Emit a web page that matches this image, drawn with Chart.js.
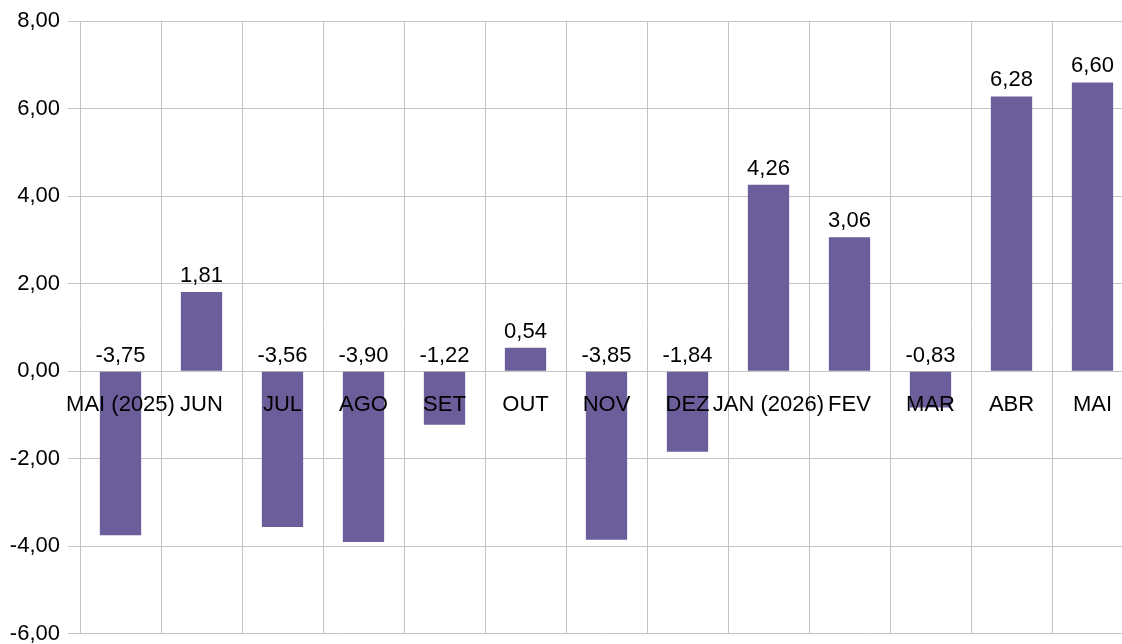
<!DOCTYPE html>
<html>
<head>
<meta charset="utf-8">
<script src="https://cdn.jsdelivr.net/npm/chart.js@4.4.1/dist/chart.umd.min.js"></script>
<style>
  html, body { margin: 0; padding: 0; background: #fff; overflow: hidden; }
  .chartBox { width: 1133px; height: 655px; }
</style>
</head>
<body>
<div class="chartBox"><canvas id="chart"></canvas></div>
<script>
// data
const months = ["MAI (2025)", "JUN", "JUL", "AGO", "SET", "OUT", "NOV", "DEZ", "JAN (2026)", "FEV", "MAR", "ABR", "MAI"];
const values = [-3.75, 1.81, -3.56, -3.90, -1.22, 0.54, -3.85, -1.84, 4.26, 3.06, -0.83, 6.28, 6.60];
const yTicks = [-6, -4, -2, 0, 2, 4, 6, 8];

const fmt = (v) => Number(v).toFixed(2).replace(".", ",");
const FONT = "'Liberation Sans', Arial, sans-serif";
const SIZE = 22;

// value labels above bar top (or above zero line for negatives)
const valueLabels = {
  id: "valueLabels",
  afterDatasetsDraw(chart) {
    const ctx = chart.ctx;
    const meta = chart.getDatasetMeta(0);
    ctx.save();
    ctx.font = SIZE + "px " + FONT;
    ctx.fillStyle = "#000";
    ctx.textAlign = "center";
    ctx.textBaseline = "alphabetic";
    meta.data.forEach((bar, i) => {
      const top = Math.min(bar.y, bar.base);
      ctx.fillText(fmt(values[i]), bar.x, top - 10);
    });
    ctx.restore();
  }
};

new Chart(document.getElementById("chart"), {
  type: "bar",
  data: {
    labels: months,
    datasets: [{
      data: values,
      backgroundColor: "#6b5e9b",
      borderWidth: 0,
      categoryPercentage: 1,
      barPercentage: 0.51
    }]
  },
  options: {
    responsive: true,
    maintainAspectRatio: false,
    animation: false,
    layout: { padding: { top: 21, bottom: 1, left: 0, right: 0 } },
    plugins: {
      legend: { display: false },
      tooltip: { enabled: false }
    },
    scales: {
      x: {
        position: { y: 0 },
        offset: true,
        grid: {
          offset: true,
          color: "#c4c4c4",
          lineWidth: 1,
          tickLength: 6
        },
        border: { color: "#c4c4c4" },
        ticks: {
          z: 1,
          color: "#000",
          font: { family: FONT, size: SIZE },
          padding: 14,
          maxRotation: 0,
          autoSkip: false
        }
      },
      y: {
        min: -6,
        max: 8,
        afterBuildTicks: (axis) => { axis.ticks = yTicks.map(v => ({ value: v })); },
        afterFit: (axis) => { axis.width = 80; },
        grid: {
          color: "#c4c4c4",
          lineWidth: 1,
          tickLength: 12
        },
        border: { display: false },
        ticks: {
          color: "#000",
          font: { family: FONT, size: SIZE },
          padding: 8,
          callback: (v) => fmt(v)
        }
      }
    }
  },
  plugins: [valueLabels]
});
</script>
</body>
</html>
